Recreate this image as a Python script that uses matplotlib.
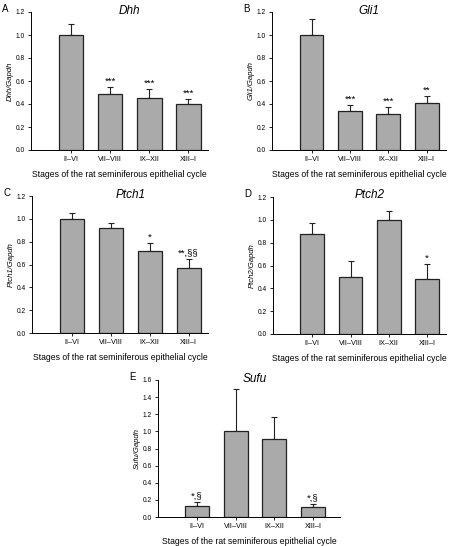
import matplotlib
matplotlib.use("Agg")
import matplotlib.pyplot as plt
from matplotlib.transforms import blended_transform_factory

plt.rcParams["font.family"] = ["Liberation Sans", "DejaVu Sans"]

W, H = 466, 546

stages = ["II\u2013VI", "VII\u2013VIII", "IX\u2013XII", "XIII\u2013I"]

dhh = [1.0, 0.49, 0.455, 0.40]
dhh_err = [0.10, 0.055, 0.075, 0.04]
dhh_sig = ["", "***", "***", "***"]

gli1 = [1.0, 0.34, 0.31, 0.41]
gli1_err = [0.14, 0.05, 0.06, 0.06]
gli1_sig = ["", "***", "***", "**"]

ptch1 = [1.0, 0.92, 0.72, 0.57]
ptch1_err = [0.05, 0.045, 0.07, 0.075]
ptch1_sig = ["", "", "*", "**,\u00a7\u00a7"]

ptch2 = [0.875, 0.50, 1.0, 0.48]
ptch2_err = [0.095, 0.14, 0.08, 0.135]
ptch2_sig = ["", "", "", "*"]

sufu = [0.13, 1.0, 0.91, 0.12]
sufu_err = [0.04, 0.50, 0.255, 0.03]
sufu_sig = ["*,\u00a7", "", "", "*,\u00a7"]

XLABEL = "Stages of the rat seminiferous epithelial cycle"


def add_panel(fig, box, letter, gene, vals, errs, sigs, ymax, xlim):
    left, top, right, bottom = box
    ax = fig.add_axes([left / W, 1 - bottom / H, (right - left) / W, (bottom - top) / H])
    x = list(range(len(stages)))
    ax.bar(x, vals, width=0.62, color="#aaaaaa", edgecolor="#222222", linewidth=0.9, zorder=2)
    ax.errorbar(x, vals, yerr=[[0] * len(errs), errs], fmt="none", ecolor="#222222",
                elinewidth=0.8, capsize=2.2, capthick=0.8, zorder=1)
    for xi, v, e, s in zip(x, vals, errs, sigs):
        if s:
            ax.text(xi, v + e + ymax * 0.01, s, ha="center", va="bottom", fontsize=6.8)
    ax.set_xlim(*xlim)
    ax.set_ylim(0, ymax)
    n = int(round(ymax / 0.2)) + 1
    ax.set_yticks([i * 0.2 for i in range(n)])
    ax.set_yticklabels([f"{i * 0.2:.1f}" for i in range(n)])
    ax.set_xticks(x)
    ax.set_xticklabels(stages)
    ax.tick_params(axis="y", labelsize=4.8, length=2.5, width=0.6, pad=2)
    ax.tick_params(axis="x", labelsize=5.3, length=2.5, width=0.6, pad=2)
    ax.spines["top"].set_visible(False)
    ax.spines["right"].set_visible(False)
    ax.spines["left"].set_linewidth(0.7)
    ax.spines["bottom"].set_linewidth(0.7)
    ax.set_xlabel(XLABEL, fontsize=6.2, labelpad=5)
    ax.set_ylabel(f"{gene}/Gapdh", fontsize=5.6, style="italic", labelpad=1.5)

    # gene name centred over the bars, baseline just under the axis top
    trans = blended_transform_factory(ax.transData, ax.transAxes)
    ax.text((x[0] + x[-1]) / 2, 1 - 1.5 / (bottom - top), gene, transform=trans,
            fontsize=8.5, style="italic", ha="center", va="baseline")
    ax.text((left - 29) / W, 1 - (top - 3) / H, letter, transform=fig.transFigure,
            fontsize=7, ha="left", va="center")
    return ax


def main():
    fig = plt.figure(figsize=(W / 100, H / 100), dpi=100)
    add_panel(fig, (31, 12, 208, 150), "A", "Dhh", dhh, dhh_err, dhh_sig, 1.2, (-1.03, 3.5))
    add_panel(fig, (272, 12, 446, 150), "B", "Gli1", gli1, gli1_err, gli1_sig, 1.2, (-1.03, 3.5))
    add_panel(fig, (32, 196, 208, 333), "C", "Ptch1", ptch1, ptch1_err, ptch1_sig, 1.2, (-1.03, 3.5))
    add_panel(fig, (273, 197, 446, 334), "D", "Ptch2", ptch2, ptch2_err, ptch2_sig, 1.2, (-1.03, 3.5))
    add_panel(fig, (158, 380, 340, 517), "E", "Sufu", sufu, sufu_err, sufu_sig, 1.6, (-1.01, 3.7))
    fig.savefig("out.png", dpi=100)
    plt.close(fig)


if __name__ == "__main__":
    main()
